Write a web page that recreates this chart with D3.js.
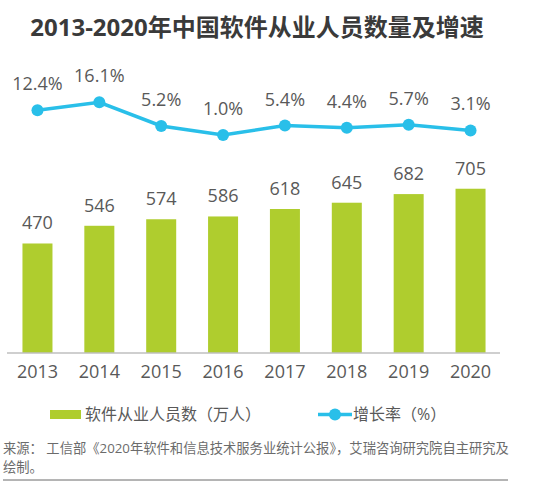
<!DOCTYPE html>
<html><head><meta charset="utf-8">
<script src="https://cdn.jsdelivr.net/npm/d3@7"></script>
<style>
html,body{margin:0;padding:0;background:#fff;}
text{font-family:"Open Sans","Noto Sans CJK SC",sans-serif;}
</style></head>
<body>
<svg id="c" width="554" height="487"></svg>
<script>
const years = ["2013","2014","2015","2016","2017","2018","2019","2020"];
const employees = [470,546,574,586,618,645,682,705];
const growth = [12.4,16.1,5.2,1.0,5.4,4.4,5.7,3.1];
const growthLabels = ["12.4%","16.1%","5.2%","1.0%","5.4%","4.4%","5.7%","3.1%"];
const title = "2013-2020年中国软件从业人员数量及增速";
const legendBar = "软件从业人员数（万人）";
const legendLine = "增长率（%）";
const source1 = "来源： 工信部《2020年软件和信息技术服务业统计公报》，艾瑞咨询研究院自主研究及";
const source2 = "绘制。";

const svg = d3.select("#c");
const green = "#afcd2e", blue = "#29bfe9", txt = "#595959";

svg.append("text").attr("x",257).attr("y",36).attr("text-anchor","middle")
  .attr("font-size",24).attr("font-weight","bold").attr("fill","#3a3a3a").text(title);

const x = d3.scaleBand().domain(years).range([7,501]).paddingInner(0.515).paddingOuter(0.25);
const y = d3.scaleLinear().domain([0,1000]).range([353,120]);
const y2 = d3.scaleLinear().domain([0,20]).range([137.2,93.9]);

svg.append("g").selectAll("rect").data(years).join("rect")
  .attr("x",d=>x(d)).attr("width",x.bandwidth())
  .attr("y",(d,i)=>y(employees[i])).attr("height",(d,i)=>y(0)-y(employees[i]))
  .attr("fill",green);

svg.append("g").selectAll("text").data(years).join("text")
  .attr("x",d=>x(d)+x.bandwidth()/2).attr("y",(d,i)=>y(employees[i])-14)
  .attr("text-anchor","middle").attr("font-size",18).attr("fill",txt)
  .text((d,i)=>employees[i]);

const axis = d3.axisBottom(x).tickSize(0).tickPadding(12);
const ag = svg.append("g").attr("transform","translate(0,353)").call(axis);
ag.select(".domain").attr("stroke","#bfbfbf").attr("stroke-width",1.5).attr("d","M7,0H500");
ag.selectAll("text").attr("font-size",18).attr("fill",txt)
  .attr("font-family","'Open Sans','Noto Sans CJK SC',sans-serif");

const cx = d => x(d)+x.bandwidth()/2;
const line = d3.line().x((d,i)=>cx(years[i])).y(d=>y2(d));
svg.append("path").datum(growth).attr("d",line).attr("fill","none")
  .attr("stroke",blue).attr("stroke-width",3.5);
svg.append("g").selectAll("circle").data(growth).join("circle")
  .attr("cx",(d,i)=>cx(years[i])).attr("cy",d=>y2(d)).attr("r",6).attr("fill",blue);
svg.append("g").selectAll("text").data(growth).join("text")
  .attr("x",(d,i)=>cx(years[i])).attr("y",d=>y2(d)-20)
  .attr("text-anchor","middle").attr("font-size",18).attr("fill",txt)
  .text((d,i)=>growthLabels[i]);

// legend
svg.append("rect").attr("x",50).attr("y",410).attr("width",31).attr("height",9).attr("fill",green);
svg.append("text").attr("x",85).attr("y",420).attr("font-size",16).attr("fill",txt).text(legendBar);
svg.append("line").attr("x1",318).attr("x2",352).attr("y1",414.5).attr("y2",414.5)
  .attr("stroke",blue).attr("stroke-width",3.5);
svg.append("circle").attr("cx",335).attr("cy",414.5).attr("r",6).attr("fill",blue);
svg.append("text").attr("x",353).attr("y",420).attr("font-size",16).attr("fill",txt).text(legendLine);

// source
svg.append("text").attr("x",3).attr("y",453).attr("font-size",13.3).attr("fill","#6b6b6b").text(source1);
svg.append("text").attr("x",3).attr("y",472).attr("font-size",13.3).attr("fill","#6b6b6b").text(source2);
svg.append("line").attr("x1",3).attr("x2",508).attr("y1",480).attr("y2",480)
  .attr("stroke","#6b6b6b").attr("stroke-width",1);
</script>
</body></html>
